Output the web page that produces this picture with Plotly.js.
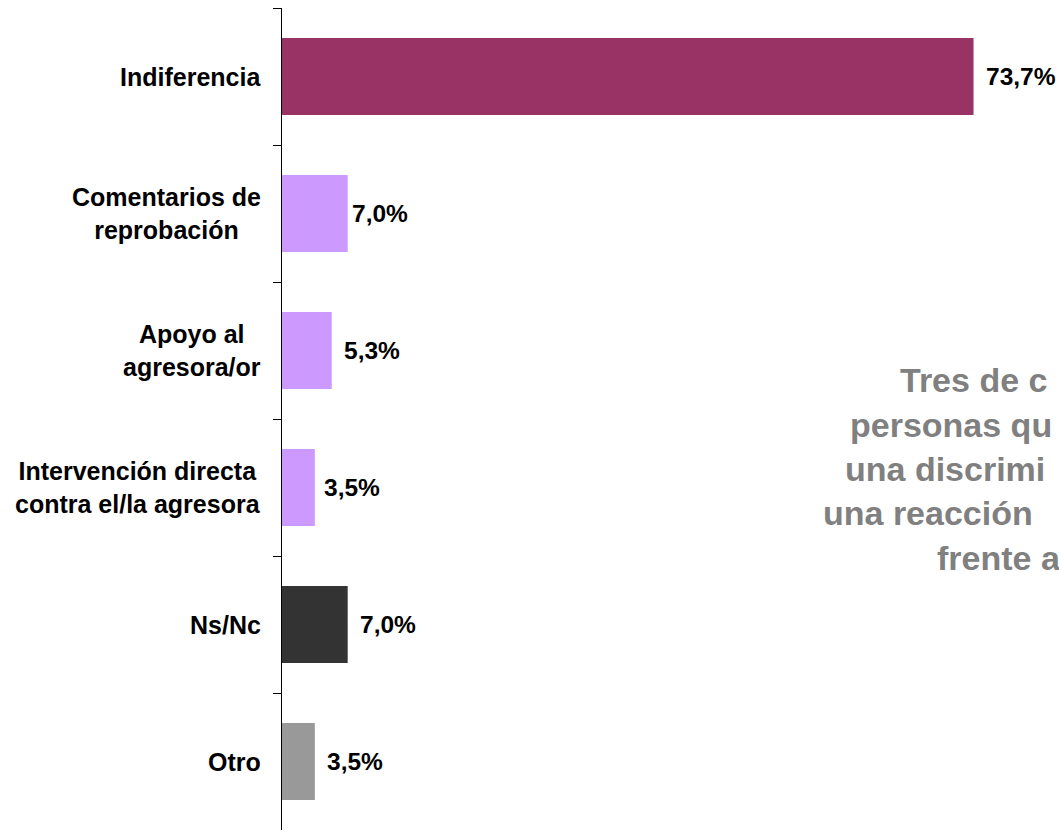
<!DOCTYPE html>
<html>
<head>
<meta charset="utf-8">
<script src="https://cdn.plot.ly/plotly-3.0.1.min.js"></script>
<style>
html,body{margin:0;padding:0;background:#fff;}
#chart{width:1059px;height:830px;}
</style>
</head>
<body>
<div id="chart"></div>
<script>
// Data
const categories = ["Indiferencia", "Comentarios de<br>reprobación", "Apoyo al<br>agresora/or", "Intervención directa<br>contra el/la agresora", "Ns/Nc", "Otro"];
const values = [73.7, 7.0, 5.3, 3.5, 7.0, 3.5];
const valueLabels = ["73,7%", "7,0%", "5,3%", "3,5%", "7,0%", "3,5%"];
const noteLines = ["Tres de c", "personas qu", "una discrimi", "una reacción", "frente a"];

// Styles
const barColors = ["#993366", "#CC99FF", "#CC99FF", "#CC99FF", "#333333", "#999999"];
const labelShift = [12, 4, 12, 9, 12, 12];
const FONT = "'Liberation Sans', Arial, Helvetica, sans-serif";
const L = 282, W = 1059, H = 830, T = 8, B = 0;
const plotW = W - L, plotH = H - T - B;
const pxPerUnit = 9.383;
const notePx = [[900, 380], [850, 425], [845, 469], [823, 513], [937, 558]];

const annotations = [];
categories.forEach((c, i) => {
  annotations.push({
    xref: "paper", yref: "y", x: 0, y: c, xanchor: "right", yanchor: "middle",
    xshift: -19, text: c, showarrow: false, align: "center",
    font: {family: FONT, size: 25, color: "#000000", weight: "bold"}
  });
  annotations.push({
    xref: "x", yref: "y", x: values[i], y: c, xanchor: "left", yanchor: "middle",
    xshift: labelShift[i] - 2, text: valueLabels[i], showarrow: false,
    font: {family: FONT, size: 24.5, color: "#000000", weight: "bold"}
  });
});
noteLines.forEach((t, i) => {
  annotations.push({
    xref: "paper", yref: "paper",
    x: (notePx[i][0] - 2 - L) / plotW, y: 1 - (notePx[i][1] - T) / plotH,
    xanchor: "left", yanchor: "middle", text: t, showarrow: false,
    font: {family: FONT, size: 34, color: "#808080", weight: "bold"}
  });
});

const trace = {
  type: "bar", orientation: "h", x: values, y: categories,
  marker: {color: barColors, line: {width: 0}},
  hoverinfo: "none", textposition: "none"
};

const layout = {
  width: W, height: H,
  margin: {l: L, r: 0, t: T, b: B, pad: 0},
  paper_bgcolor: "#ffffff", plot_bgcolor: "#ffffff",
  showlegend: false, bargap: 0.438,
  font: {family: FONT},
  xaxis: {visible: false, range: [0, plotW / pxPerUnit], fixedrange: true},
  yaxis: {
    type: "category", categoryorder: "array", categoryarray: categories,
    range: [5.5, -0.5], showticklabels: false, showgrid: false, zeroline: false,
    showline: true, linecolor: "#000000", linewidth: 1,
    ticks: "outside", tickson: "boundaries", ticklen: 8, tickcolor: "#000000", tickwidth: 1,
    fixedrange: true
  },
  annotations: annotations
};

Plotly.newPlot("chart", [trace], layout, {displayModeBar: false, staticPlot: true});
</script>
</body>
</html>
